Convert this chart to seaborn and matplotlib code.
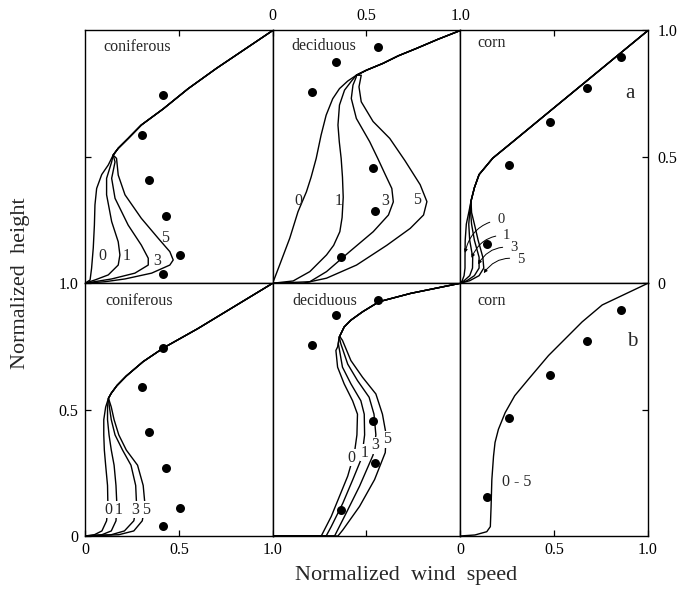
import matplotlib
matplotlib.use("Agg")
import matplotlib.pyplot as plt
import seaborn as sns

# ---- data (normalized wind speed x, normalized height y) ----
# coniferous, panel a
con_a_top_x = [1.0, 0.85, 0.70, 0.55, 0.417, 0.30, 0.23, 0.177, 0.15]
con_a_top_y = [1.0, 0.925, 0.85, 0.77, 0.69, 0.626, 0.573, 0.534, 0.507]
con_a0_x = [0.124, 0.089, 0.062, 0.053, 0.05, 0.044, 0.035, 0.027, 0.0]
con_a0_y = [0.468, 0.43, 0.375, 0.31, 0.23, 0.14, 0.059, 0.013, 0.0]
con_a1_x = [0.142, 0.115, 0.115, 0.142, 0.177, 0.186, 0.177, 0.124, 0.053, 0.0]
con_a1_y = [0.48, 0.415, 0.35, 0.244, 0.164, 0.112, 0.072, 0.033, 0.013, 0.0]
con_a3_x = [0.16, 0.142, 0.16, 0.23, 0.30, 0.337, 0.337, 0.266, 0.142, 0.0]
con_a3_y = [0.48, 0.415, 0.336, 0.23, 0.151, 0.099, 0.072, 0.04, 0.017, 0.0]
con_a5_x = [0.168, 0.177, 0.213, 0.30, 0.39, 0.452, 0.47, 0.452, 0.355, 0.213, 0.106, 0.0]
con_a5_y = [0.494, 0.428, 0.35, 0.257, 0.178, 0.125, 0.092, 0.072, 0.04, 0.017, 0.006, 0.0]

# coniferous, panel b
con_b_top_x = [1.0, 0.80, 0.60, 0.42, 0.31, 0.22, 0.17, 0.14, 0.125]
con_b_top_y = [1.0, 0.91, 0.82, 0.745, 0.69, 0.633, 0.595, 0.565, 0.545]
con_b_heights = [0.51, 0.46, 0.40, 0.34, 0.28, 0.20, 0.12, 0.06, 0.02, 0.005, 0.0]
con_b0_x = [0.11, 0.10, 0.10, 0.103, 0.11, 0.12, 0.122, 0.115, 0.09, 0.05, 0.0]
con_b1_x = [0.12, 0.12, 0.128, 0.14, 0.155, 0.165, 0.17, 0.165, 0.14, 0.09, 0.0]
con_b3_x = [0.13, 0.14, 0.16, 0.20, 0.245, 0.27, 0.275, 0.26, 0.21, 0.14, 0.0]
con_b5_x = [0.14, 0.155, 0.18, 0.22, 0.28, 0.31, 0.32, 0.305, 0.26, 0.18, 0.0]

# deciduous, panel a
dec_a_top_x = [1.0, 0.88, 0.766, 0.67, 0.588, 0.5, 0.446]
dec_a_top_y = [1.0, 0.965, 0.929, 0.90, 0.87, 0.843, 0.823]
dec_a0_x = [0.40, 0.356, 0.32, 0.285, 0.258, 0.232, 0.205, 0.18, 0.135, 0.091, 0.037, 0.0]
dec_a0_y = [0.80, 0.77, 0.73, 0.665, 0.586, 0.494, 0.42, 0.362, 0.283, 0.178, 0.072, 0.0]
dec_a1_x = [0.42, 0.383, 0.356, 0.348, 0.355, 0.365, 0.372, 0.376, 0.37, 0.358, 0.325,
            0.287, 0.198, 0.109, 0.0]
dec_a1_y = [0.80, 0.764, 0.705, 0.626, 0.56, 0.494, 0.42, 0.34, 0.26, 0.204, 0.15,
            0.112, 0.046, 0.009, 0.0]
dec_a3_x = [0.446, 0.428, 0.419, 0.446, 0.517, 0.56, 0.60, 0.635, 0.643, 0.617, 0.536,
            0.41, 0.287, 0.198, 0.0]
dec_a3_y = [0.817, 0.784, 0.731, 0.652, 0.56, 0.494, 0.43, 0.375, 0.322, 0.27, 0.204,
            0.125, 0.046, 0.006, 0.0]
dec_a5_x = [0.472, 0.46, 0.472, 0.535, 0.624, 0.705, 0.786, 0.822, 0.804, 0.733, 0.608,
            0.447, 0.287, 0.162, 0.0]
dec_a5_y = [0.823, 0.777, 0.718, 0.64, 0.573, 0.485, 0.39, 0.323, 0.27, 0.217, 0.15,
            0.072, 0.02, 0.0, 0.0]

# deciduous, panel b
dec_b_top_x = [1.0, 0.736, 0.567, 0.479, 0.417, 0.381, 0.355]
dec_b_top_y = [1.0, 0.96, 0.927, 0.887, 0.854, 0.827, 0.787]
dec_b0_x = [0.346, 0.337, 0.346, 0.381, 0.426, 0.452, 0.449, 0.436, 0.40, 0.356, 0.312, 0.259, 0.0]
dec_b0_y = [0.748, 0.734, 0.668, 0.602, 0.535, 0.482, 0.40, 0.33, 0.237, 0.157, 0.077, 0.0, 0.0]
dec_b1_x = [0.35, 0.355, 0.372, 0.417, 0.47, 0.488, 0.49, 0.475, 0.427, 0.374, 0.312, 0.285, 0.0]
dec_b1_y = [0.76, 0.74, 0.668, 0.602, 0.535, 0.482, 0.40, 0.31, 0.223, 0.13, 0.037, 0.0, 0.0]
dec_b3_x = [0.355, 0.363, 0.40, 0.452, 0.514, 0.54, 0.55, 0.535, 0.463, 0.392, 0.33, 0.0]
dec_b3_y = [0.787, 0.761, 0.68, 0.615, 0.549, 0.482, 0.40, 0.32, 0.197, 0.091, 0.0, 0.0]
dec_b5_x = [0.36, 0.372, 0.417, 0.479, 0.55, 0.585, 0.605, 0.60, 0.543, 0.463, 0.374, 0.348, 0.0]
dec_b5_y = [0.787, 0.774, 0.694, 0.628, 0.562, 0.482, 0.40, 0.33, 0.223, 0.117, 0.024, 0.0, 0.0]

# corn, panel a
corn_a_top_x = [1.0, 0.476, 0.28, 0.173, 0.10, 0.075, 0.057]
corn_a_top_y = [1.0, 0.68, 0.56, 0.495, 0.43, 0.378, 0.325]
corn_a_heights = [0.28, 0.234, 0.17, 0.103, 0.06, 0.03, 0.01, 0.0]
corn_a0_x = [0.045, 0.032, 0.026, 0.025, 0.025, 0.02, 0.01, 0.0]
corn_a1_x = [0.05, 0.045, 0.05, 0.066, 0.065, 0.05, 0.02, 0.0]
corn_a3_x = [0.055, 0.06, 0.075, 0.10, 0.10, 0.075, 0.035, 0.0]
corn_a5_x = [0.06, 0.075, 0.095, 0.12, 0.125, 0.10, 0.05, 0.0]

# corn, panel b (all runs collapse to one curve)
corn_b_x = [1.0, 0.756, 0.649, 0.47, 0.364, 0.29, 0.239, 0.203, 0.185, 0.177, 0.168,
            0.164, 0.16, 0.141, 0.078, 0.0]
corn_b_y = [1.0, 0.914, 0.847, 0.714, 0.621, 0.555, 0.488, 0.422, 0.37, 0.316, 0.223,
            0.117, 0.037, 0.017, 0.004, 0.0]

# observations
con_obs_x = [0.415, 0.305, 0.34, 0.432, 0.505, 0.418]
con_obs_y = [0.745, 0.588, 0.41, 0.268, 0.11, 0.038]
dec_obs_x = [0.56, 0.335, 0.21, 0.535, 0.543, 0.365]
dec_obs_y = [0.933, 0.876, 0.756, 0.455, 0.287, 0.102]
corn_obs_x = [0.858, 0.675, 0.476, 0.26, 0.14]
corn_obs_y = [0.895, 0.772, 0.637, 0.466, 0.154]

sns.set_style("white")
plt.rcParams["font.family"] = ["Liberation Serif", "DejaVu Serif"]

fig, axes = plt.subplots(2, 3, figsize=(6.79, 5.98), dpi=100)
fig.subplots_adjust(left=0.1252, right=0.9543, top=0.949, bottom=0.1037,
                    wspace=0, hspace=0)

LW = 1.0
FS = 11.5


def curve(ax, xs, ys):
    sns.lineplot(x=xs, y=ys, ax=ax, sort=False, estimator=None,
                 color="black", lw=LW)


def dots(ax, xs, ys):
    sns.scatterplot(x=xs, y=ys, ax=ax, color="black", s=42,
                    edgecolor="black", linewidth=0, zorder=5)


# coniferous a
ax = axes[0, 0]
for bx, by in [(con_a0_x, con_a0_y), (con_a1_x, con_a1_y),
               (con_a3_x, con_a3_y), (con_a5_x, con_a5_y)]:
    curve(ax, con_a_top_x + bx, con_a_top_y + by)
dots(ax, con_obs_x, con_obs_y)
for lab, x, y in [("0", 0.09, 0.107), ("1", 0.223, 0.107),
                  ("3", 0.383, 0.087), ("5", 0.426, 0.178)]:
    ax.text(x, y, lab, fontsize=FS, ha="center", va="center")

# coniferous b
ax = axes[1, 0]
for bx in [con_b0_x, con_b1_x, con_b3_x, con_b5_x]:
    curve(ax, con_b_top_x + bx, con_b_top_y + con_b_heights)
dots(ax, con_obs_x, con_obs_y)
for lab, x, y in [("0", 0.126, 0.104), ("1", 0.178, 0.104),
                  ("3", 0.266, 0.104), ("5", 0.324, 0.104)]:
    ax.text(x, y, lab, fontsize=FS, ha="center", va="center",
            bbox=dict(facecolor="white", edgecolor="none", pad=0.2))

# deciduous a
ax = axes[0, 1]
for bx, by in [(dec_a0_x, dec_a0_y), (dec_a1_x, dec_a1_y),
               (dec_a3_x, dec_a3_y), (dec_a5_x, dec_a5_y)]:
    curve(ax, dec_a_top_x + bx, dec_a_top_y + by)
dots(ax, dec_obs_x, dec_obs_y)
for lab, x, y in [("0", 0.139, 0.324), ("1", 0.35, 0.324),
                  ("3", 0.60, 0.326), ("5", 0.77, 0.328)]:
    ax.text(x, y, lab, fontsize=FS, ha="center", va="center")

# deciduous b
ax = axes[1, 1]
for bx, by in [(dec_b0_x, dec_b0_y), (dec_b1_x, dec_b1_y),
               (dec_b3_x, dec_b3_y), (dec_b5_x, dec_b5_y)]:
    curve(ax, dec_b_top_x + bx, dec_b_top_y + by)
dots(ax, dec_obs_x, dec_obs_y)
for lab, x, y in [("0", 0.42, 0.31), ("1", 0.489, 0.33),
                  ("3", 0.548, 0.359), ("5", 0.612, 0.382)]:
    ax.text(x, y, lab, fontsize=FS, ha="center", va="center",
            bbox=dict(facecolor="white", edgecolor="none", pad=0.2))

# corn a: run labels with leader arrows
ax = axes[0, 2]
for bx in [corn_a0_x, corn_a1_x, corn_a3_x, corn_a5_x]:
    curve(ax, corn_a_top_x + bx, corn_a_top_y + corn_a_heights)
dots(ax, corn_obs_x, corn_obs_y)
for lab, tx, ty, px, py in [("0", 0.215, 0.252, 0.025, 0.12),
                            ("1", 0.248, 0.19, 0.06, 0.10),
                            ("3", 0.285, 0.14, 0.095, 0.075),
                            ("5", 0.322, 0.093, 0.125, 0.04)]:
    ax.annotate(lab, xy=(px, py), xytext=(tx, ty), fontsize=10.5,
                ha="center", va="center",
                arrowprops=dict(arrowstyle="-|>", lw=0.7, mutation_scale=5,
                                color="black", shrinkA=3, shrinkB=0,
                                connectionstyle="arc3,rad=0.35"))
ax.text(0.904, 0.75, "a", fontsize=15, ha="center", va="center")

# corn b
ax = axes[1, 2]
curve(ax, corn_b_x, corn_b_y)
dots(ax, corn_obs_x, corn_obs_y)
ax.text(0.30, 0.215, "0 - 5", fontsize=FS, ha="center", va="center")
ax.text(0.914, 0.77, "b", fontsize=15, ha="center", va="center")

# panel names
names = [["coniferous", "deciduous", "corn"]] * 2
name_pos = [[(0.28, 0.933), (0.27, 0.937), (0.166, 0.95)],
            [(0.29, 0.928), (0.277, 0.928), (0.166, 0.928)]]
for r in range(2):
    for c in range(3):
        x, y = name_pos[r][c]
        axes[r, c].text(x, y, names[r][c], fontsize=11.5, ha="center",
                        va="center")

# axes frames and ticks
for ax in axes.flat:
    ax.set_xlim(0, 1)
    ax.set_ylim(0, 1)
    ax.set_xlabel("")
    ax.set_ylabel("")
    for s in ax.spines.values():
        s.set_visible(True)
        s.set_color("black")
        s.set_linewidth(1.0)
    ax.set_xticks([])
    ax.set_yticks([])
    ax.tick_params(direction="in", length=4, width=0.9, labelsize=FS,
                   colors="black")

# top-left: ticks at 0.5 on top and left
ax = axes[0, 0]
ax.set_xticks([0.5]); ax.set_yticks([0.5])
ax.tick_params(top=True, bottom=False, labeltop=False, labelbottom=False,
               left=True, labelleft=False)

# top-middle: labelled scale on top
ax = axes[0, 1]
ax.set_xticks([0, 0.5, 1.0], ["0", "0.5", "1.0"])
ax.tick_params(axis="x", top=True, bottom=False, labeltop=True,
               labelbottom=False, pad=5)

# top-right: top tick and labelled scale on right
ax = axes[0, 2]
ax.set_xticks([0.5])
ax.tick_params(axis="x", top=True, bottom=False, labeltop=False,
               labelbottom=False)
ax.set_yticks([0, 0.5, 1.0], ["0", "0.5", "1.0"])
ax.tick_params(axis="y", right=True, left=False, labelright=True,
               labelleft=False, pad=7)

# bottom-left: labelled scales left and bottom
ax = axes[1, 0]
ax.set_yticks([0, 0.5, 1.0], ["0", "0.5", "1.0"])
ax.tick_params(axis="y", left=True, labelleft=True, pad=5)
ax.set_xticks([0, 0.5, 1.0], ["0", "0.5", "1.0"])
ax.tick_params(axis="x", bottom=True, labelbottom=True, pad=4)

# bottom-middle: bottom tick only
ax = axes[1, 1]
ax.set_xticks([0.5], [""])
ax.tick_params(axis="x", bottom=True)

# bottom-right: labelled bottom scale, right tick
ax = axes[1, 2]
ax.set_xticks([0, 0.5, 1.0], ["0", "0.5", "1.0"])
ax.tick_params(axis="x", bottom=True, labelbottom=True, pad=4)
ax.set_yticks([0.5], [""])
ax.tick_params(axis="y", right=True, left=False, labelright=False,
               labelleft=False)

fig.text(0.598, 0.038, "Normalized  wind  speed", fontsize=16,
         ha="center", va="center")
fig.text(0.03, 0.527, "Normalized  height", fontsize=16, rotation=90,
         ha="center", va="center")

fig.savefig("out.png", dpi=100)
